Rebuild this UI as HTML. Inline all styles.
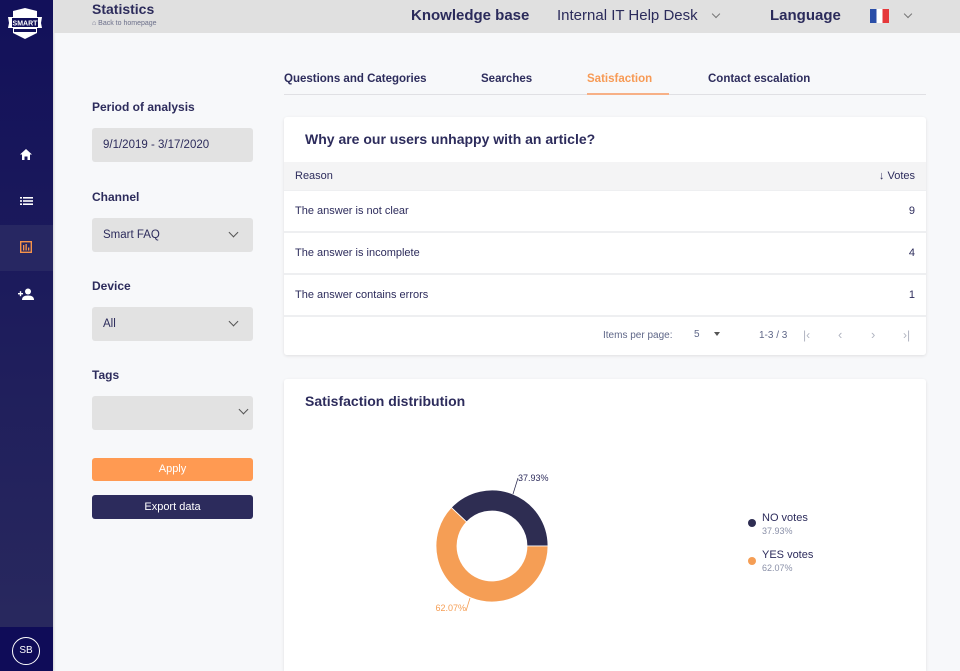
<!DOCTYPE html>
<html><head><meta charset="utf-8">
<style>
*{box-sizing:border-box;margin:0;padding:0}
html,body{width:960px;height:671px;overflow:hidden}
body{background:#f7f8fa;font-family:"Liberation Sans",sans-serif;color:#2d2c5c;position:relative}
.abs{position:absolute}
#side{left:0;top:0;width:53px;height:671px;background:linear-gradient(#12105a,#2a2a5e);box-shadow:1px 0 2px rgba(0,0,0,.15)}
#hdr{left:53px;top:0;width:907px;height:33px;background:#e0e0e0}
.lbl{font-size:12px;font-weight:bold;color:#2d2c5c;left:92px}
.box{left:92px;width:161px;height:34px;background:#e2e2e2;border-radius:3px;font-size:11.5px;color:#2d2c5c;padding-left:11px;line-height:34px}
.chev{position:absolute;width:7px;height:7px;border-right:1.3px solid #555;border-bottom:1.3px solid #555;transform:rotate(45deg)}
.card{background:#fff;border-radius:3px;box-shadow:0 1px 3px rgba(0,0,0,.1)}
.row{left:0;width:642px;height:40px;background:#fff;font-size:11px;line-height:40px;padding:0 11px}
.row span{float:right}
.tab{top:73px;font-size:11.5px;font-weight:bold;color:#2d2c5c}
</style></head><body>
<div id="side" class="abs">
  <svg class="abs" style="left:4px;top:7px" width="42" height="34" viewBox="0 0 42 34">
    <polygon points="9,4 21,1 33,4 33,10 38,10 37,16 38,21 33,21 33,26 21,32 9,26 9,21 4,21 5,16 4,10 9,10" fill="#fff"/>
    <rect x="8" y="11" width="26" height="9" fill="#12105a"/>
    <text x="21" y="18.5" font-size="7" font-weight="bold" fill="#fff" text-anchor="middle" font-family="Liberation Sans">SMART</text>
    <rect x="10" y="22" width="22" height="3" fill="#12105a"/>
  </svg>
  <div class="abs" style="left:0;top:225px;width:53px;height:46px;background:#272762"></div>
  <svg class="abs" style="left:19px;top:148px" width="14" height="13" viewBox="0 0 14 13"><path d="M7 1 L13 6.5 H11 V12 H8.5 V8.5 H5.5 V12 H3 V6.5 H1 Z" fill="#fff"/></svg>
  <svg class="abs" style="left:20px;top:196px" width="13" height="10" viewBox="0 0 13 10"><rect x="0" y="1" width="2" height="1.6" fill="#fff"/><rect x="3" y="1" width="10" height="1.6" fill="#fff"/><rect x="0" y="4.2" width="2" height="1.6" fill="#fff"/><rect x="3" y="4.2" width="10" height="1.6" fill="#fff"/><rect x="0" y="7.4" width="2" height="1.6" fill="#fff"/><rect x="3" y="7.4" width="10" height="1.6" fill="#fff"/></svg>
  <svg class="abs" style="left:20px;top:241px" width="12" height="12" viewBox="0 0 12 12"><rect x="0.7" y="0.7" width="10.6" height="10.6" fill="none" stroke="#f7934a" stroke-width="1.4"/><rect x="3" y="4" width="1.3" height="5.5" fill="#f7934a"/><rect x="5.5" y="3" width="1.3" height="6.5" fill="#f7934a"/><rect x="8" y="6.5" width="1.3" height="3" fill="#f7934a"/></svg>
  <svg class="abs" style="left:18px;top:288px" width="16" height="13" viewBox="0 0 16 13"><circle cx="10" cy="3.5" r="3" fill="#fff"/><path d="M4 12 Q4 7.5 10 7.5 Q16 7.5 16 12 Z" fill="#fff"/><rect x="0" y="5" width="5" height="1.4" fill="#fff"/><rect x="1.8" y="3.2" width="1.4" height="5" fill="#fff"/></svg>
  <div class="abs" style="left:0;top:627px;width:53px;height:44px;background:#0f0c58"></div>
  <div class="abs" style="left:12px;top:637px;width:28px;height:28px;border:1px solid #fff;border-radius:50%;color:#fff;font-size:10px;text-align:center;line-height:26px">SB</div>
</div>
<div id="hdr" class="abs">
  <div class="abs" style="left:39px;top:1px;font-size:14px;font-weight:bold;color:#2d2c5c">Statistics</div>
  <div class="abs" style="left:39px;top:20px;font-size:7px;color:#6b6f8a">&#8962; Back to homepage</div>
  <div class="abs" style="left:358px;top:7px;font-size:15px;font-weight:bold;color:#2b2b5b">Knowledge base</div>
  <div class="abs" style="left:504px;top:7px;font-size:15px;color:#2b2b5b">Internal IT Help Desk</div>
  <div class="chev" style="left:660px;top:11px;width:6px;height:6px;border-color:#777;border-width:1px"></div>
  <div class="abs" style="left:717px;top:7px;font-size:15px;font-weight:bold;color:#2b2b5b">Language</div>
  <div class="abs" style="left:817px;top:9px;width:19px;height:14px;background:linear-gradient(90deg,#2a4ea8 0 33%,#fff 33% 66%,#e5383b 66%)"></div>
  <div class="chev" style="left:852px;top:11px;width:6px;height:6px;border-color:#777;border-width:1px"></div>
</div>

<div class="abs lbl" style="top:100px">Period of analysis</div>
<div class="abs box" style="top:128px">9/1/2019 - 3/17/2020</div>
<div class="abs lbl" style="top:190px">Channel</div>
<div class="abs box" style="top:218px">Smart FAQ<div class="chev" style="left:138px;top:11px"></div></div>
<div class="abs lbl" style="top:279px">Device</div>
<div class="abs box" style="top:307px">All<div class="chev" style="left:138px;top:11px"></div></div>
<div class="abs lbl" style="top:368px">Tags</div>
<div class="abs box" style="top:396px"><div class="chev" style="left:148px;top:10px"></div></div>
<div class="abs" style="left:92px;top:458px;width:161px;height:23px;background:#ff9a52;border-radius:3px;color:#fff;font-size:11px;text-align:center;line-height:23px">Apply</div>
<div class="abs" style="left:92px;top:495px;width:161px;height:24px;background:#2c2b5c;border-radius:3px;color:#fff;font-size:11px;text-align:center;line-height:24px">Export data</div>

<div class="abs tab" style="left:284px">Questions and Categories</div>
<div class="abs tab" style="left:481px">Searches</div>
<div class="abs tab" style="left:587px;color:#f79a55">Satisfaction</div>
<div class="abs tab" style="left:708px">Contact escalation</div>
<div class="abs" style="left:284px;top:94px;width:642px;height:1px;background:#e0e0e4"></div>
<div class="abs" style="left:587px;top:93px;width:82px;height:2px;background:#f7b086"></div>

<div class="abs card" style="left:284px;top:117px;width:642px;height:238px;overflow:hidden">
  <div class="abs" style="left:21px;top:14px;font-size:14px;font-weight:bold;color:#2d2c5c">Why are our users unhappy with an article?</div>
  <div class="abs" style="left:0;top:45px;width:642px;height:28px;background:#f4f4f5;font-size:11px;line-height:28px;padding:0 11px">Reason<span style="float:right">&#8595; Votes</span></div>
  <div class="abs" style="left:0;top:73px;width:642px;height:165px;background:#eeeff1"></div>
  <div class="abs row" style="top:74px">The answer is not clear<span>9</span></div>
  <div class="abs row" style="top:116px">The answer is incomplete<span>4</span></div>
  <div class="abs row" style="top:158px">The answer contains errors<span>1</span></div>
  <div class="abs" style="left:0;top:200px;width:642px;height:38px;background:#fff;font-size:10px;color:#5f6788">
    <span class="abs" style="left:319px;top:13px">Items per page:</span>
    <span class="abs" style="left:410px;top:12px">5</span>
    <span class="abs" style="left:430px;top:15px;width:0;height:0;border-left:3.5px solid transparent;border-right:3.5px solid transparent;border-top:4px solid #555"></span>
    <span class="abs" style="left:475px;top:13px">1-3 / 3</span>
    <span class="abs" style="left:519px;top:11px;color:#b0b4c0;font-size:12px">|&lsaquo;</span>
    <span class="abs" style="left:554px;top:10px;color:#b0b4c0;font-size:13px">&lsaquo;</span>
    <span class="abs" style="left:587px;top:10px;color:#b0b4c0;font-size:13px">&rsaquo;</span>
    <span class="abs" style="left:619px;top:11px;color:#b0b4c0;font-size:12px">&rsaquo;|</span>
  </div>
</div>

<div class="abs card" style="left:284px;top:379px;width:642px;height:292px;border-radius:3px 3px 0 0">
  <div class="abs" style="left:21px;top:14px;font-size:14px;font-weight:bold;color:#2d2c5c">Satisfaction distribution</div>
</div>
<svg class="abs" style="left:0;top:0" width="960" height="671" viewBox="0 0 960 671">
  <path d="M548 546 A56 56 0 0 0 451.33 507.5 L466.58 521.94 A35 35 0 0 1 527 546 Z" fill="#2e2d52" stroke="#fff" stroke-width="0.8"/>
  <path d="M451.33 507.5 A56 56 0 1 0 548 546 L527 546 A35 35 0 1 1 466.58 521.94 Z" fill="#f59e55" stroke="#fff" stroke-width="0.8"/>
  <polyline points="513,494 518,478" fill="none" stroke="#2e2d52" stroke-width="0.8"/>
  <text x="518" y="481" font-size="9" fill="#2d2c5c" font-family="Liberation Sans">37.93%</text>
  <polyline points="470,598 466,611" fill="none" stroke="#f59e55" stroke-width="0.8"/>
  <text x="466" y="611" font-size="9" fill="#f59e55" text-anchor="end" font-family="Liberation Sans">62.07%</text>
  <circle cx="752" cy="523" r="4" fill="#2e2d52"/>
  <text x="762" y="521" font-size="11" fill="#2d2c5c" font-family="Liberation Sans">NO votes</text>
  <text x="762" y="534" font-size="9" fill="#8a90a8" font-family="Liberation Sans">37.93%</text>
  <circle cx="752" cy="561" r="4" fill="#f59e55"/>
  <text x="762" y="558" font-size="11" fill="#2d2c5c" font-family="Liberation Sans">YES votes</text>
  <text x="762" y="571" font-size="9" fill="#8a90a8" font-family="Liberation Sans">62.07%</text>
</svg>
</body></html>
